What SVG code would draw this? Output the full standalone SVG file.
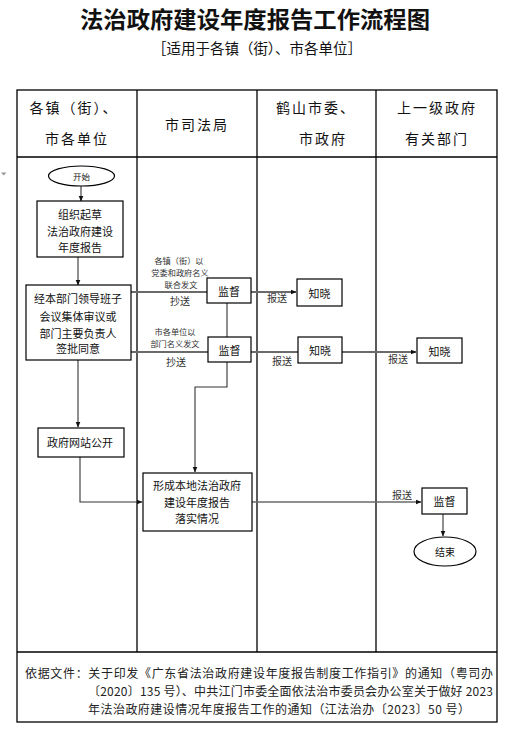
<svg xmlns="http://www.w3.org/2000/svg" width="515" height="741" viewBox="0 0 515 741">
<style>
text{font-family:"Noto Sans CJK SC","Liberation Serif",serif;fill:#111;dominant-baseline:central;text-anchor:middle}
.hd{font-size:14px;letter-spacing:2px}
.nd{font-size:11px}
.sm{font-size:8.2px;fill:#333}
.lb{font-size:10px;fill:#333}
.ft{font-size:12px;fill:#222;text-anchor:start}
.box{fill:#fff;stroke:#000;stroke-width:1.2}
.grid{fill:none;stroke:#000;stroke-width:1.3}
.ln{fill:none;stroke:#333;stroke-width:1.1}
.gl{fill:none;stroke:#6a6a6a;stroke-width:2}
</style>
<defs>
<marker id="ah" viewBox="0 0 6 6" refX="5.5" refY="3" markerWidth="6" markerHeight="6" markerUnits="userSpaceOnUse" orient="auto">
<path d="M0,0.5 L6,3 L0,5.5 Z" fill="#111"/>
</marker>
</defs>
<rect width="515" height="741" fill="#fff"/>
<text x="255" y="18" style="font-size:22.5px;font-weight:bold" textLength="350" lengthAdjust="spacingAndGlyphs">法治政府建设年度报告工作流程图</text>
<text x="257" y="47" style="font-size:14.5px" textLength="210" lengthAdjust="spacing">［适用于各镇（街）、市各单位］</text>
<polygon points="1,172.5 6.5,172.5 3.7,175.5" fill="#9a9a9a"/>
<g id="table">
<rect class="grid" x="17" y="90" width="480" height="632"/>
<line class="grid" x1="17" y1="157" x2="497" y2="157"/>
<line class="grid" x1="17" y1="652" x2="497" y2="652"/>
<line class="grid" x1="137" y1="90" x2="137" y2="652"/>
<line class="grid" x1="257" y1="90" x2="257" y2="652"/>
<line class="grid" x1="376" y1="90" x2="376" y2="652"/>
<text class="hd" x="74" y="107">各镇（街）、</text>
<text class="hd" x="77" y="138">市各单位</text>
<text class="hd" x="197" y="124">市司法局</text>
<text class="hd" x="316" y="107">鹤山市委、</text>
<text class="hd" x="323" y="138">市政府</text>
<text class="hd" x="437" y="107">上一级政府</text>
<text class="hd" x="437" y="138">有关部门</text>
</g>
<g id="connectors">
<line class="ln" x1="81" y1="186" x2="81" y2="201" marker-end="url(#ah)"/>
<line class="ln" x1="78" y1="257" x2="78" y2="285" marker-end="url(#ah)"/>
<line class="gl" x1="131" y1="292" x2="207" y2="292"/>
<line class="gl" x1="131" y1="352" x2="208" y2="352"/>
<line class="gl" x1="251" y1="292" x2="296" y2="292" marker-end="url(#ah)"/>
<line class="ln" x1="227" y1="303" x2="227" y2="337"/>
<line class="gl" x1="251" y1="352" x2="298" y2="352"/>
<line class="gl" x1="342" y1="352" x2="416" y2="352" marker-end="url(#ah)"/>
<polyline class="ln" points="227,362 227,387 195,387 195,472" marker-end="url(#ah)"/>
<line class="ln" x1="78" y1="360" x2="78" y2="427" marker-end="url(#ah)"/>
<polyline class="ln" points="80,457 80,502 142,502" marker-end="url(#ah)"/>
<line class="gl" x1="252" y1="502" x2="421" y2="502" style="stroke-width:1.6" marker-end="url(#ah)"/>
<line class="ln" x1="443" y1="514" x2="443" y2="536" marker-end="url(#ah)"/>
<text class="sm" x="179" y="259.5">各镇（街）以</text>
<text class="sm" x="180" y="271.5">党委和政府名义</text>
<text class="sm" x="181" y="283.5">联合发文</text>
<text class="lb" x="180" y="300">抄送</text>
<text class="sm" x="175" y="331">市各单位以</text>
<text class="sm" x="175" y="343">部门名义发文</text>
<text class="lb" x="176" y="361">抄送</text>
<text class="lb" x="277" y="297">报送</text>
<text class="lb" x="282" y="360">报送</text>
<text class="lb" x="398" y="358">报送</text>
<text class="lb" x="402" y="494">报送</text>
</g>
<g id="start">
<ellipse class="box" cx="81.5" cy="176" rx="33" ry="10"/>
<text x="81.5" y="176" style="font-size:8.5px">开始</text>
</g>
<g id="draft">
<rect class="box" x="37" y="201" width="86" height="56"/>
<text class="nd" x="80" y="214">组织起草</text>
<text class="nd" x="80" y="231">法治政府建设</text>
<text class="nd" x="80" y="247">年度报告</text>
</g>
<g id="approve">
<rect class="box" x="26" y="285" width="105" height="75"/>
<text class="nd" x="78" y="298">经本部门领导班子</text>
<text class="nd" x="78" y="316">会议集体审议或</text>
<text class="nd" x="78" y="333">部门主要负责人</text>
<text class="nd" x="78" y="348">签批同意</text>
</g>
<g id="supervise1">
<rect class="box" x="207" y="278" width="44" height="25"/>
<text class="nd" x="229" y="290.5">监督</text>
</g>
<g id="supervise2">
<rect class="box" x="208" y="337" width="43" height="25"/>
<text class="nd" x="229.5" y="349.5">监督</text>
</g>
<g id="know1">
<rect class="box" x="297" y="279" width="45" height="27"/>
<text class="nd" x="319.5" y="292.5">知晓</text>
</g>
<g id="know2">
<rect class="box" x="298" y="337" width="44" height="26"/>
<text class="nd" x="320" y="350">知晓</text>
</g>
<g id="know3">
<rect class="box" x="417" y="338" width="45" height="25"/>
<text class="nd" x="439.5" y="350.5">知晓</text>
</g>
<g id="publish">
<rect class="box" x="38" y="428" width="86" height="29"/>
<text class="nd" x="80" y="442">政府网站公开</text>
</g>
<g id="report">
<rect class="box" x="143" y="473" width="109" height="58"/>
<text class="nd" x="197" y="485">形成本地法治政府</text>
<text class="nd" x="197" y="502">建设年度报告</text>
<text class="nd" x="197" y="518">落实情况</text>
</g>
<g id="supervise3">
<rect class="box" x="422" y="488" width="45" height="26"/>
<text class="nd" x="444.5" y="501">监督</text>
</g>
<g id="end">
<ellipse class="box" cx="445" cy="551.5" rx="31" ry="14.5"/>
<text x="445" y="551.5" style="font-size:10px">结束</text>
</g>
<g id="footer">
<text class="ft" x="25" y="672" textLength="468" lengthAdjust="spacing">依据文件：关于印发《广东省法治政府建设年度报告制度工作指引》的通知（粤司办</text>
<text class="ft" x="88" y="690" textLength="405" lengthAdjust="spacing">〔2020〕135 号）、中共江门市委全面依法治市委员会办公室关于做好 2023</text>
<text class="ft" x="88" y="708" textLength="382" lengthAdjust="spacing">年法治政府建设情况年度报告工作的通知（江法治办〔2023〕50 号）</text>
</g>
</svg>
